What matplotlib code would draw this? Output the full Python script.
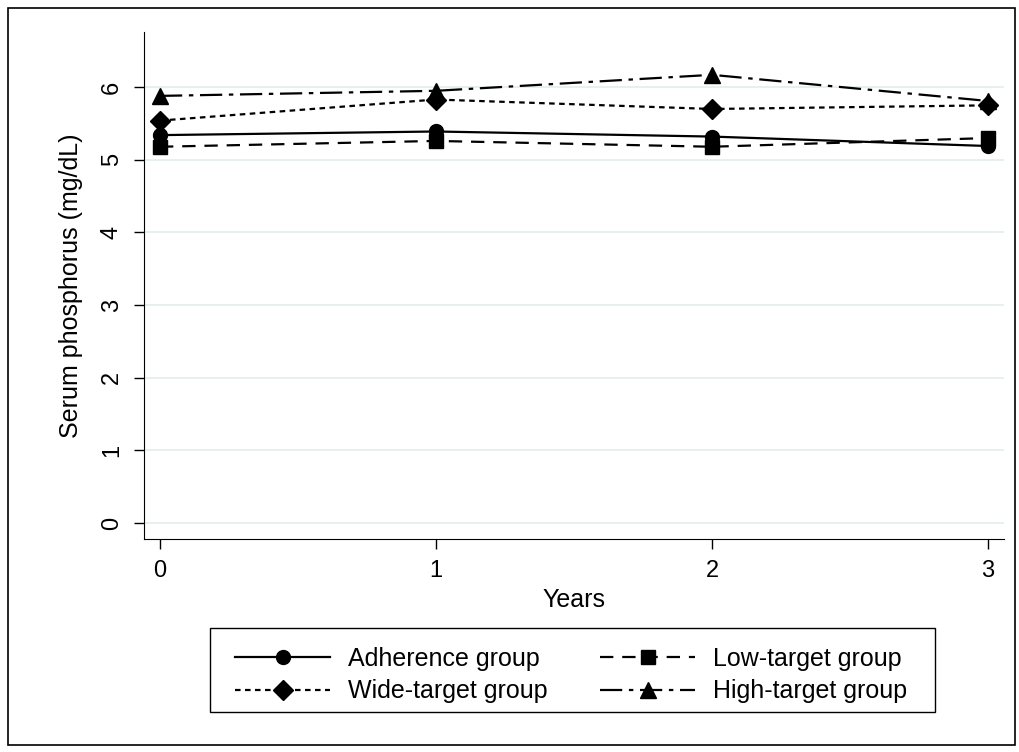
import matplotlib.pyplot as plt
from matplotlib.patches import Rectangle

plt.rcParams['font.family'] = ['Liberation Sans', 'DejaVu Sans']

# Data
years = [0, 1, 2, 3]
adherence = [5.34, 5.39, 5.32, 5.19]
low_target = [5.18, 5.26, 5.18, 5.30]
wide_target = [5.54, 5.83, 5.70, 5.75]
high_target = [5.88, 5.95, 6.17, 5.81]

fig = plt.figure(figsize=(10.19, 7.52), dpi=100)
ax = fig.add_axes([0.1413, 0.2832, 0.844, 0.674])

l1, = ax.plot(years, adherence, color='black', lw=1.6, ls='-', marker='o', ms=10,
              label='Adherence group')
l2, = ax.plot(years, low_target, color='black', lw=1.6, ls=(0, (6, 4)), marker='s', ms=10,
              label='Low-target group')
l3, = ax.plot(years, wide_target, color='black', lw=1.6, ls=(0, (2.5, 2)), marker='D', ms=10,
              label='Wide-target group')
l4, = ax.plot(years, high_target, color='black', lw=1.6, ls=(0, (10, 3, 2, 3)), marker='^', ms=11,
              label='High-target group')

ax.set_xlim(-0.058, 3.058)
ax.set_ylim(-0.22, 6.757)
ax.set_xticks(years)
ax.set_yticks(range(0, 7))
ax.tick_params(axis='both', labelsize=17, length=7.2, width=1, pad=8)
for lab in ax.get_yticklabels():
    lab.set_rotation(90)
    lab.set_va('center')
ax.grid(axis='y', color='#e4ecef', lw=1.2)
ax.set_axisbelow(True)
ax.spines['top'].set_visible(False)
ax.spines['right'].set_visible(False)
ax.set_xlabel('Years', fontsize=18, labelpad=4)
ax.set_ylabel('Serum phosphorus (mg/dL)', fontsize=18, labelpad=13)

# column-first fill: rows are (Adherence, Low-target), (Wide-target, High-target)
leg = fig.legend([l1, l3, l2, l4],
                 [l1.get_label(), l3.get_label(), l2.get_label(), l4.get_label()],
                 loc='center', bbox_to_anchor=(0.5604, 0.1024), ncol=2, fontsize=18,
                 frameon=False, handlelength=3.8, handletextpad=0.7,
                 columnspacing=2.1, borderpad=0.3, labelspacing=0.35)

# legend frame
fig.patches.append(Rectangle((210 / 1019, 1 - 712 / 752), 725 / 1019, 84 / 752,
                             transform=fig.transFigure, fill=False,
                             edgecolor='black', lw=1.0))
# outer border
fig.patches.append(Rectangle((0.008, 0.009), 0.988, 0.981, transform=fig.transFigure,
                             fill=False, edgecolor='black', lw=1.2))

fig.savefig('out.png', dpi=100)
